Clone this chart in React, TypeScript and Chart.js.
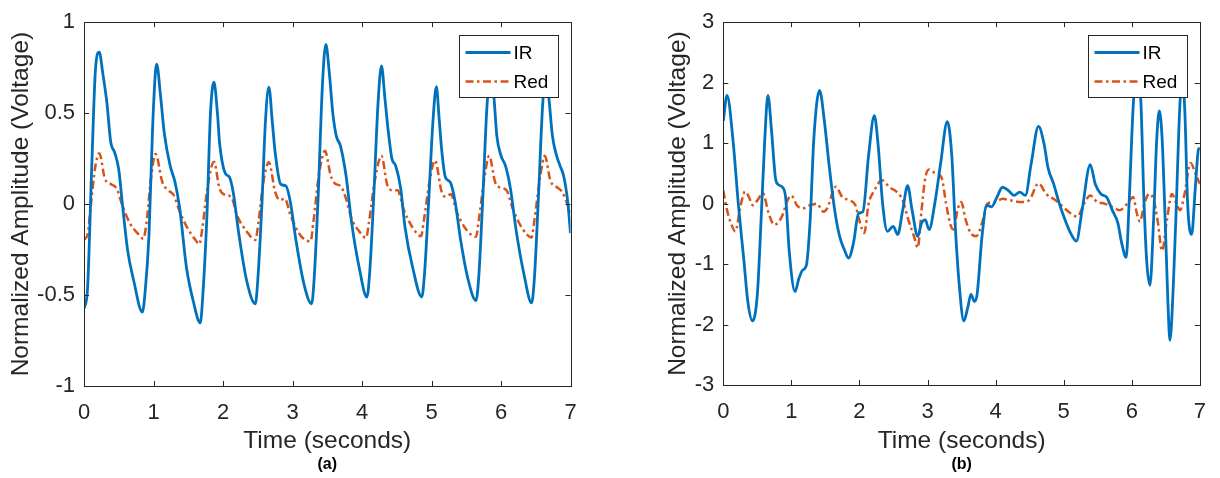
import React, { useEffect, useRef } from 'react';
import { Chart, registerables } from 'chart.js';

Chart.register(...registerables);

// ---------- DATA ----------
const xTickValues = [0, 1, 2, 3, 4, 5, 6, 7];
const yTickValuesA = [-1, -0.5, 0, 0.5, 1];
const yTickValuesB = [-3, -2, -1, 0, 1, 2, 3];
const seriesNames = ['IR', 'Red'];
const panelCaptions = ['(a)', '(b)'];
const xAxisTitle = 'Time (seconds)';
const yAxisTitle = 'Normalized Amplitude (Voltage)';

// Panel (a) IR
const irTimeA = [0, 0.05, 0.11, 0.165, 0.22, 0.27, 0.33, 0.385, 0.44, 0.5, 0.55, 0.63, 0.715, 0.84, 0.88, 0.935, 0.99, 1.046,
  1.1, 1.155, 1.24, 1.31, 1.376, 1.475, 1.57, 1.673, 1.71, 1.77, 1.82, 1.87,
  1.92, 1.95, 2.036, 2.09, 2.146, 2.23, 2.34, 2.466, 2.5, 2.56, 2.61, 2.66,
  2.71, 2.75, 2.83, 2.905, 2.97, 3.05, 3.165, 3.275, 3.31, 3.37, 3.43, 3.48,
  3.53, 3.58, 3.63, 3.69, 3.77, 3.85, 3.96, 4.07, 4.11, 4.17, 4.23, 4.28,
  4.33, 4.375, 4.43, 4.485, 4.557, 4.62, 4.73, 4.86, 4.9, 4.96, 5.02, 5.07,
  5.11, 5.146, 5.2, 5.27, 5.34, 5.42, 5.53, 5.64, 5.68, 5.74, 5.8, 5.86,
  5.9, 5.94, 6.0, 6.065, 6.136, 6.22, 6.33, 6.44, 6.48, 6.54, 6.6, 6.65,
  6.69, 6.74, 6.8, 6.85, 6.9, 6.96, 7.0];
const irValA = [-0.575, -0.47, 0.19, 0.74, 0.836, 0.72, 0.555, 0.34, 0.285, 0.19, 0.01, -0.26, -0.42, -0.594, -0.48, -0.17, 0.45, 0.77,
  0.6, 0.39, 0.21, 0.12, -0.02, -0.35, -0.53, -0.653, -0.5, -0.05, 0.5, 0.67,
  0.5, 0.34, 0.167, 0.15, 0.067, -0.17, -0.42, -0.548, -0.42, 0.0, 0.45, 0.643,
  0.45, 0.285, 0.11, 0.1, 0.01, -0.2, -0.44, -0.548, -0.42, 0.05, 0.65, 0.878,
  0.72, 0.5, 0.375, 0.32, 0.157, -0.1, -0.35, -0.511, -0.38, 0.05, 0.55, 0.76,
  0.58, 0.41, 0.25, 0.21, 0.085, -0.13, -0.35, -0.511, -0.38, 0.02, 0.45, 0.645,
  0.47, 0.3, 0.148, 0.12, 0.013, -0.2, -0.42, -0.53, -0.4, 0.05, 0.55, 0.72,
  0.58, 0.375, 0.266, 0.21, 0.085, -0.15, -0.385, -0.543, -0.41, 0.05, 0.55, 0.72,
  0.58, 0.375, 0.266, 0.21, 0.157, 0.013, -0.16];

// Panel (a) Red
const redTimeA = [0, 0.05, 0.1, 0.16, 0.22, 0.3, 0.385, 0.47, 0.55, 0.66, 0.77, 0.853, 0.9, 0.963, 1.03,
  1.128, 1.21, 1.29, 1.376, 1.486, 1.6, 1.66, 1.7, 1.78, 1.87,
  1.95, 2.036, 2.12, 2.2, 2.34, 2.466, 2.51, 2.58, 2.66,
  2.75, 2.82, 2.89, 2.97, 3.11, 3.26, 3.3, 3.38, 3.467,
  3.55, 3.62, 3.69, 3.77, 3.85, 3.96, 4.06, 4.1, 4.19, 4.28,
  4.36, 4.43, 4.51, 4.6, 4.73, 4.85, 4.89, 4.97, 5.05,
  5.146, 5.2, 5.28, 5.36, 5.5, 5.64, 5.68, 5.76, 5.83,
  5.916, 6.0, 6.08, 6.164, 6.3, 6.44, 6.48, 6.56, 6.63,
  6.71, 6.8, 6.88, 6.96, 7.0];
const redValA = [-0.195, -0.17, 0.0, 0.2, 0.28, 0.14, 0.11, 0.085, -0.005, -0.105, -0.16, -0.19, -0.1, 0.14, 0.275,
  0.12, 0.076, 0.05, -0.04, -0.13, -0.195, -0.22, -0.14, 0.1, 0.233,
  0.085, 0.05, 0.04, -0.06, -0.15, -0.197, -0.1, 0.12, 0.23,
  0.067, 0.022, 0.03, -0.06, -0.17, -0.205, -0.1, 0.16, 0.293,
  0.157, 0.11, 0.1, 0.03, -0.08, -0.15, -0.186, -0.1, 0.14, 0.266,
  0.11, 0.076, 0.076, -0.03, -0.13, -0.177, -0.09, 0.12, 0.24,
  0.067, 0.04, 0.054, -0.04, -0.14, -0.18, -0.09, 0.14, 0.266,
  0.12, 0.089, 0.076, -0.02, -0.13, -0.183, -0.09, 0.14, 0.266,
  0.13, 0.094, 0.067, -0.005, -0.045];

// Panel (b) IR
const irTimeB = [0, 0.055, 0.14, 0.22, 0.305, 0.36, 0.427, 0.5, 0.555, 0.61, 0.655, 0.71, 0.765, 0.8, 0.86, 0.915, 0.97,
  1.054, 1.11, 1.165, 1.22, 1.276, 1.33, 1.414, 1.486, 1.553, 1.636, 1.708, 1.775, 1.84, 1.913, 1.986,
  2.05, 2.135, 2.218, 2.274, 2.34, 2.41, 2.496, 2.562, 2.635, 2.707, 2.773, 2.856, 2.912, 2.967,
  3.023, 3.106, 3.19, 3.29, 3.355, 3.41, 3.466, 3.533, 3.59, 3.638, 3.688, 3.727, 3.8, 3.87, 3.94,
  4.02, 4.1, 4.19, 4.27, 4.354, 4.437, 4.52, 4.63, 4.714, 4.77, 4.853, 4.936,
  5.02, 5.1, 5.186, 5.27, 5.39, 5.463, 5.546, 5.63, 5.713, 5.796, 5.85, 5.918, 5.96,
  6.02, 6.075, 6.13, 6.18, 6.22, 6.267, 6.32, 6.367, 6.405, 6.445, 6.49, 6.53, 6.56, 6.61, 6.655,
  6.695, 6.74, 6.78, 6.82, 6.88, 6.93, 6.98, 7.0];
const irValB = [1.37, 1.79, 1.08, 0, -0.97, -1.62, -1.94, -1.5, -0.27, 1.08, 1.79, 1.18, 0.43, 0.32, 0.28, 0.108, -0.81,
  -1.454, -1.24, -1.1, -1.02, -0.27, 1.08, 1.874, 1.35, 0.646, -0.108, -0.54, -0.754, -0.9, -0.646, -0.16,
  -0.135, 0.81, 1.454, 0.97, 0, -0.46, -0.377, -0.51, -0.108, 0.296, -0.108, -0.54, -0.323, -0.27,
  -0.43, 0, 0.646, 1.357, 0.81, -0.43, -1.35, -1.94, -1.72, -1.5, -1.62, -1.51, -0.54, -0.027, -0.054,
  0.108, 0.27, 0.215, 0.135, 0.19, 0.135, 0.646, 1.276, 0.97, 0.59, 0.323, 0,
  -0.27, -0.485, -0.62, -0.108, 0.646, 0.323, 0.16, 0.108, -0.108, -0.323, -0.646, -0.888, 0,
  1.6, 2.3, 1.78, 0, -0.97, -1.35, -0.27, 1.08, 1.535, 1.08, -0.27, -1.62, -2.26, -1.35, 0,
  1.35, 2.1, 1.5, 0, -0.51, 0.215, 0.9, 0.92];

// Panel (b) Red
const redTimeB = [0, 0.055, 0.11, 0.177, 0.25, 0.32, 0.377, 0.433, 0.5, 0.582, 0.666, 0.75, 0.86, 0.943,
  1.0, 1.08, 1.165, 1.276, 1.375, 1.47, 1.525, 1.653, 1.747, 1.858, 1.94, 1.997,
  2.07, 2.135, 2.218, 2.33, 2.44, 2.55, 2.635, 2.718, 2.8, 2.856, 2.912, 2.967,
  3.023, 3.106, 3.206, 3.272, 3.344, 3.383, 3.44, 3.494, 3.56, 3.633, 3.716, 3.8, 3.882, 3.993,
  4.104, 4.215, 4.38, 4.49, 4.63, 4.742, 4.88, 4.99,
  5.1, 5.2, 5.3, 5.39, 5.49, 5.6, 5.713, 5.824, 5.935,
  6.02, 6.074, 6.118, 6.185, 6.257, 6.323, 6.378, 6.445, 6.516, 6.59, 6.655, 6.71, 6.766, 6.866, 6.93, 7.0];
const redValB = [0.215, -0.108, -0.32, -0.46, -0.054, 0.2, 0.108, -0.027, 0.054, 0.17, -0.16, -0.35, -0.215, 0.054,
  0.135, -0.027, -0.08, -0.027, 0, -0.135, -0.08, 0.28, 0.108, 0.054, -0.027, -0.27,
  -0.485, 0, 0.215, 0.388, 0.27, 0.19, 0.054, -0.27, -0.54, -0.727, -0.108, 0.43,
  0.565, 0.51, 0.43, 0, -0.377, -0.43, -0.108, 0.027, -0.27, -0.485, -0.54, -0.323, 0, 0.027,
  0.08, 0.054, 0.027, 0.054, 0.334, 0.16, 0.054, -0.054,
  -0.16, -0.215, 0, 0.135, 0.027, 0, -0.054, -0.108, 0,
  0.108, -0.16, -0.3, 0, 0.16, 0.054, -0.27, -0.78, -0.27, 0.16, 0, -0.108, 0.108, 0.673, 0.51, 0.323];

// ---------- STYLE ----------
const FONT = "'Liberation Sans', Arial, Helvetica, sans-serif";
const AXIS_COLOR = '#262626';
const IR_COLOR = '#0072BD';
const RED_COLOR = '#D95319';

const toPoints = (t: number[], v: number[]) => t.map((x, i) => ({ x, y: v[i] }));

const matlabPlugin = {
  id: 'matlabDecor',
  afterDraw(chart: any) {
    const { ctx, chartArea: a, scales } = chart;
    const xs = scales.x;
    const ys = scales.y;
    const opts = chart.options.plugins.matlabDecor || {};
    ctx.save();
    ctx.strokeStyle = AXIS_COLOR;
    ctx.lineWidth = 1;
    ctx.beginPath();
    const tl = 5;
    xs.ticks.forEach((t: any) => {
      const px = Math.round(xs.getPixelForValue(t.value)) + 0.5;
      ctx.moveTo(px, a.bottom);
      ctx.lineTo(px, a.bottom - tl);
      ctx.moveTo(px, a.top);
      ctx.lineTo(px, a.top + tl);
    });
    ys.ticks.forEach((t: any) => {
      const py = Math.round(ys.getPixelForValue(t.value)) + 0.5;
      ctx.moveTo(a.left, py);
      ctx.lineTo(a.left + tl, py);
      ctx.moveTo(a.right, py);
      ctx.lineTo(a.right - tl, py);
    });
    ctx.stroke();
    ctx.strokeRect(Math.round(a.left) + 0.5, Math.round(a.top) + 0.5, Math.round(a.right - a.left), Math.round(a.bottom - a.top));

    // legend box (top-right inside the axes)
    const bw = 99, bh = 62;
    const bx = Math.round(a.right - 12.5 - bw) + 0.5;
    const by = Math.round(a.top + 13) + 0.5;
    ctx.fillStyle = '#ffffff';
    ctx.fillRect(bx, by, bw, bh);
    ctx.strokeStyle = AXIS_COLOR;
    ctx.lineWidth = 1;
    ctx.strokeRect(bx, by, bw, bh);
    const rows = [by + 17, by + 46];
    chart.data.datasets.forEach((ds: any, i: number) => {
      ctx.save();
      ctx.strokeStyle = ds.borderColor;
      ctx.lineWidth = ds.borderWidth;
      ctx.setLineDash(ds.borderDash || []);
      ctx.beginPath();
      ctx.moveTo(bx + 6, rows[i]);
      ctx.lineTo(bx + 51, rows[i]);
      ctx.stroke();
      ctx.restore();
      ctx.fillStyle = '#000000';
      ctx.font = `19px ${FONT}`;
      ctx.textAlign = 'left';
      ctx.textBaseline = 'middle';
      ctx.fillText(ds.label, bx + 54, rows[i] + 1);
    });

    // panel caption
    if (opts.caption) {
      ctx.fillStyle = '#000000';
      ctx.font = `bold 16px ${FONT}`;
      ctx.textAlign = 'center';
      ctx.textBaseline = 'middle';
      ctx.fillText(opts.caption, (a.left + a.right) / 2, 465);
    }
    ctx.restore();
  },
};

type PanelProps = {
  irT: number[]; irV: number[]; redT: number[]; redV: number[];
  yTicks: number[]; caption: string;
  yAxisWidth: number; yTitlePad: number; padRight: number; padTop: number; xAxisHeight: number;
};

function Panel(p: PanelProps) {
  const ref = useRef<HTMLCanvasElement | null>(null);
  useEffect(() => {
    if (!ref.current) return;
    const chart = new Chart(ref.current, {
      type: 'line',
      data: {
        datasets: [
          {
            label: seriesNames[0],
            data: toPoints(p.irT, p.irV),
            borderColor: IR_COLOR,
            borderWidth: 2.8,
            pointRadius: 0,
            cubicInterpolationMode: 'monotone',
            fill: false,
          },
          {
            label: seriesNames[1],
            data: toPoints(p.redT, p.redV),
            borderColor: RED_COLOR,
            borderWidth: 2.5,
            borderDash: [8, 3.5, 2.5, 3.5],
            pointRadius: 0,
            cubicInterpolationMode: 'monotone',
            fill: false,
          },
        ],
      },
      options: {
        animation: false,
        responsive: false,
        devicePixelRatio: 1,
        layout: { padding: { left: 0, right: p.padRight, top: p.padTop, bottom: 0 } },
        plugins: {
          legend: { display: false },
          tooltip: { enabled: false },
          matlabDecor: { caption: p.caption },
        } as any,
        scales: {
          x: {
            type: 'linear',
            min: xTickValues[0],
            max: xTickValues[xTickValues.length - 1],
            grid: { display: false, drawTicks: false },
            border: { display: false },
            afterBuildTicks: (s: any) => { s.ticks = xTickValues.map((v) => ({ value: v })); },
            afterFit: (s: any) => { s.height = p.xAxisHeight; },
            ticks: {
              autoSkip: false, maxRotation: 0, padding: 14, color: AXIS_COLOR,
              font: { family: FONT, size: 22 },
              callback: (v: any) => String(v),
            },
            title: {
              display: true, text: xAxisTitle, color: AXIS_COLOR,
              font: { family: FONT, size: 24.5 }, padding: { top: 0, bottom: 22 },
            },
          },
          y: {
            type: 'linear',
            min: p.yTicks[0],
            max: p.yTicks[p.yTicks.length - 1],
            grid: { display: false, drawTicks: false },
            border: { display: false },
            afterBuildTicks: (s: any) => { s.ticks = p.yTicks.map((v) => ({ value: v })); },
            afterFit: (s: any) => { s.width = p.yAxisWidth; },
            ticks: {
              autoSkip: false, padding: 9, color: AXIS_COLOR,
              font: { family: FONT, size: 22 },
              callback: (v: any) => String(v),
            },
            title: {
              display: true, text: yAxisTitle, color: AXIS_COLOR,
              font: { family: FONT, size: 24.5 }, padding: { top: p.yTitlePad, bottom: 0 },
            },
          },
        },
      } as any,
      plugins: [matlabPlugin],
    });
    return () => chart.destroy();
  }, []);
  return <canvas ref={ref} width={610} height={478} style={{ width: 610, height: 478, display: 'block' }} />;
}

export default function App() {
  return (
    <div style={{ position: 'absolute', left: 0, top: 0, width: 1220, height: 478, background: '#ffffff', display: 'flex' }}>
      <Panel irT={irTimeA} irV={irValA} redT={redTimeA} redV={redValA} yTicks={yTickValuesA} caption={panelCaptions[0]}
        yAxisWidth={84} yTitlePad={7} padRight={39.5} padTop={18} xAxisHeight={92} />
      <Panel irT={irTimeB} irV={irValB} redT={redTimeB} redV={redValB} yTicks={yTickValuesB} caption={panelCaptions[1]}
        yAxisWidth={113.3} yTitlePad={54} padRight={7} padTop={14.3} xAxisHeight={93} />
    </div>
  );
}
